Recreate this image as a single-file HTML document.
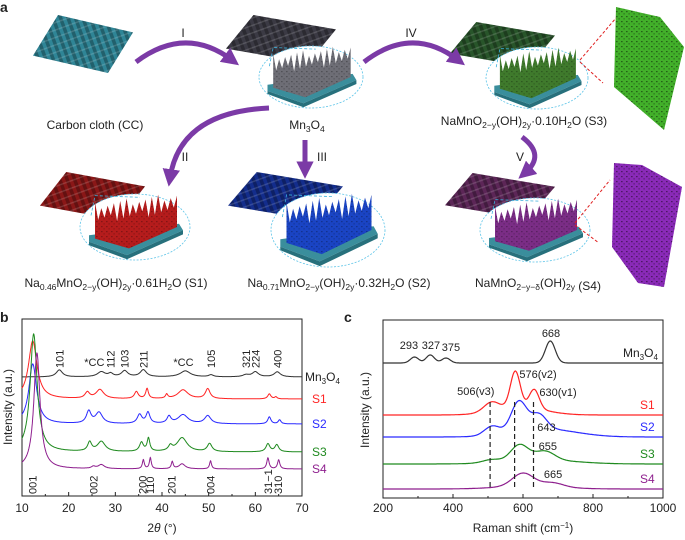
<!DOCTYPE html>
<html><head><meta charset="utf-8">
<style>
html,body{margin:0;padding:0;background:#fff;}
svg{display:block;font-family:"Liberation Sans",Arial,sans-serif;}
</style></head>
<body>
<svg id="fig" width="685" height="540" viewBox="0 0 685 540" xmlns="http://www.w3.org/2000/svg">
<defs>
<pattern id="weave" width="7" height="7" patternUnits="userSpaceOnUse" patternTransform="rotate(-20)">
<rect x="0" y="0" width="3.5" height="7" fill="rgba(0,0,0,0.28)"/>
<rect x="0" y="4.5" width="7" height="1.4" fill="rgba(255,255,255,0.15)"/>
</pattern>
<pattern id="flake" width="5" height="5" patternUnits="userSpaceOnUse">
<rect x="1" y="1" width="1.6" height="1.2" fill="rgba(0,0,0,0.45)"/>
<rect x="3.5" y="3" width="1.2" height="1.6" fill="rgba(0,0,0,0.3)"/>
</pattern>
<marker id="ah" viewBox="0 0 10 10" refX="5" refY="5" markerWidth="3.5" markerHeight="3.5" orient="auto"><path d="M0,0 L10,5 L0,10 z" fill="#7b3aa6"/></marker>
</defs>
<g id="panelA"></g>
<g id="panelB"></g>
<g id="panelC"></g>
</svg>
<script>
// ---------- XRD data (panel b) ----------
const xrdSeries = ["Mn3O4","S1","S2","S3","S4"];
const xrdBaselines = [55, 33, 8, -20, -37];   // intensity offsets (a.u.)
const xrdPeakPos = [
 [18,27,29,32,36,45,50.5,58,60,64.7],
 [12.3,24,26.7,34.5,36.8,41,44.5,49.8,63,64.4],
 [12.3,24.3,26.5,35.2,37,41.5,44.5,49.8,63,65.2],
 [12.5,24.5,27,35.6,37.1,41.8,44.3,50.2,62.7,64.6],
 [13.2,25.3,27,36,37.5,42.2,44.3,50.4,62.7,65]
];
const xrdPeakH = [
 [7,5,3,6,7,6,2,2,5,5],
 [58,6,9,7,10,4,9,10,5,2],
 [60,12,11,9,11,7,9,8,7,4],
 [118,9,10,9,13,5,14,8,8,7],
 [116,2,4,9,11,7,5,8,11,9]
];
const xrdPeakW = [
 [0.8,1,0.6,0.8,0.8,1.3,0.6,0.8,0.8,0.8],
 [1.1,0.6,1.0,0.5,0.35,0.3,1.3,0.6,0.4,0.3],
 [1.0,0.6,0.9,0.6,0.5,0.5,1.3,0.8,0.4,0.35],
 [0.9,0.5,1.0,0.5,0.35,0.5,1.3,0.6,0.5,0.5],
 [0.8,0.5,0.8,0.25,0.25,0.25,0.8,0.25,0.3,0.3]
];
const xrdTicks = [10,20,30,40,50,60,70];
const xrdTopLabels = ["101","112","103","211","105","321","224","400"];
const xrdTopLabelPos = [18,29,32,36,50.5,58,60,64.7];
const xrdCCPos = [25.5,44.6];
const xrdBotLabels = ["001","002","200","110","201","004","31\u22121","310"];
const xrdBotLabelPos = [12.3,25.3,35.8,37.4,42,50.4,62.7,64.9];

// ---------- Raman data (panel c) ----------
const ramSeries = ["Mn3O4","S1","S2","S3","S4"];
const ramBaselines = [135, 83, 61, 34, 9];
const ramPeakPos = [
 [290,335,380,678],
 [510,578,632,590],
 [512,588,645,660],
 [510,590,662,650],
 [600,685,620]
];
const ramPeakH = [
 [6,8,5,22],
 [9,36,19,8],
 [9,30,15,8],
 [3,16,9,4],
 [13,4,3]
];
const ramPeakW = [
 [12,12,12,14],
 [22,14,14,70],
 [22,22,22,90],
 [25,25,28,100],
 [30,30,90]
];
const ramTicks = [200,400,600,800,1000];
const ramDashed = [506,576,630];
const ramLabels = ["293","327","375","668","506(v3)","576(v2)","630(v1)","643","655","665"];
const ramLabelX = [274,337,394,680,465,643,700,667,671,686];
const ramLabelY = [149,149,147,161,103,120,102,67,48,20];

const NS="http://www.w3.org/2000/svg";
function mk(tag,attrs,parent){const e=document.createElementNS(NS,tag);for(const k in attrs)e.setAttribute(k,attrs[k]);parent.appendChild(e);return e;}
function txt(parent,x,y,s,opt){opt=opt||{};const t=mk("text",{x:x,y:y,"font-size":opt.size||11,fill:opt.fill||"#222","text-anchor":opt.anchor||"start"},parent);if(opt.rot)t.setAttribute("transform","rotate(-90 "+x+" "+y+")");t.innerHTML=s;return t;}
const colors=["#333333","#ff2424","#2a2aff","#1f8a1f","#8e1f8e"];

// ---------- Panel A ----------
const A=document.getElementById("panelA");
let t=txt(A,0,12,"a",{size:14});t.setAttribute("font-weight","bold");


function cloth(x,y,w,h,col,name){
 const g=mk("g",{},A);
 
 
 const pts=[[x+w*0.25,y],[x+w,y+h*0.3],[x+w*0.75,y+h],[x,y+h*0.7]].map(p=>p.join(",")).join(" ");
 mk("polygon",{points:pts,fill:col},g);
 mk("polygon",{points:pts,fill:"url(#weave)"},g);
}
function zoomCircle(cx,cy,rx,ry,col,name){
 const kx=rx/55, ky=ry/40;
 const g=mk("g",{},A);
 
 
 mk("ellipse",{cx:cx,cy:cy,rx:rx,ry:ry,fill:"#fff",stroke:"#5cc4e8","stroke-width":0.8,"stroke-dasharray":"2,1.5"},g);
 mk("polyline",{points:(cx-44*kx)+","+(cy-14*ky)+" "+(cx-40*kx)+","+(cy-38*ky)+" "+(cx+5*kx)+","+(cy-36*ky),fill:"none",stroke:"#3bb0dc","stroke-dasharray":"3,2","stroke-width":0.8},g);
 const P=a=>a.map(p=>(cx+p[0]*kx).toFixed(1)+","+(cy+p[1]*ky).toFixed(1)).join(" ");
 mk("polygon",{points:P([[-46,10],[44,-4],[48,4],[-8,34],[-46,18]]),fill:"#3a8e9c"},g);
 mk("polygon",{points:P([[-46,18],[-8,34],[48,4],[48,9],[-8,39],[-46,22]]),fill:"#27707c"},g);
 let p=[];const n=26;
 for(let i=0;i<=n;i++){const fx=i/n;p.push([-40+fx*82,8-fx*12-(i%2?20:38)+((i*7)%5)*2]);}
 const poly=[[-40,14]].concat(p).concat([[42,0],[-6,26]]);
 mk("polygon",{points:P(poly),fill:col},g);
 mk("polygon",{points:P(poly),fill:"url(#flake)",opacity:0.6},g);
}
function panelFlake(pts,col,name){
 const g=mk("g",{},A);
 
 
 mk("polygon",{points:pts,fill:col},g);
 mk("polygon",{points:pts,fill:"url(#flake)"},g);
}
function arrow(d,name){
 const p=mk("path",{d:d,fill:"none",stroke:"#7b3aa6","stroke-width":5,"marker-end":"url(#ah)"},A);
 
 
}
function redDash(x1,y1,x2,y2){mk("line",{x1:x1,y1:y1,x2:x2,y2:y2,stroke:"#e02020","stroke-width":1,"stroke-dasharray":"3,2"},A);}
cloth(33,15,100,58,"#2f8596","carbon-cloth");
cloth(226,15,110,48,"#3b3a44","mn3o4-cloth");
zoomCircle(311,77,52,31,"#6e6e76","mn3o4-zoom");
cloth(450,22,105,45,"#28552a","s3-cloth");
zoomCircle(537,78,51,31,"#3f7a2c","s3-zoom");
panelFlake("616,7 660,17 684,47 664,130 614,87","#42b02a","s3-flake-panel");
redDash(580,60,616,18);redDash(580,62,603,83);
cloth(40,172,105,48,"#8a1717","s1-cloth");
zoomCircle(135,227,55,33,"#b51c1c","s1-zoom");
cloth(228,172,115,48,"#132d8c","s2-cloth");
zoomCircle(328,230,57,37,"#1a44c4","s2-zoom");
cloth(445,173,110,46,"#5c2657","s4-cloth");
zoomCircle(535,230,55,32,"#7b2d86","s4-zoom");
panelFlake("614,163 642,165 682,187 664,287 638,283 612,247","#8a2ab8","s4-flake-panel");
redDash(575,223,610,180);redDash(575,225,599,243);
arrow("M136,62 Q185,25 232,60","arrow-I");
arrow("M364,62 Q412,25 458,60","arrow-IV");
arrow("M269,108 Q180,112 170,178","arrow-II");
arrow("M305,140 L305,170","arrow-III");
arrow("M522,137 Q546,155 525,173","arrow-V");
const roman=[["I",183,37],["IV",411,37],["II",185,161],["III",322,161],["V",520,161]];
roman.forEach(r=>{const e=txt(A,r[1],r[2],r[0],{size:12,anchor:"middle"});
 
 });
const sub='<tspan font-size="8.5" dy="3">';const end='</tspan><tspan dy="-3">';
const alabels=[
 ["Carbon cloth (CC)",95,129],
 ["Mn"+sub+"3"+end+"O"+sub+"4"+"</tspan>",307,129],
 ["NaMnO"+sub+"2\u2212y"+end+"(OH)"+sub+"2y"+end+"\u00b70.10H"+sub+"2"+end+"O (S3)",524,125],
 ["Na"+sub+"0.46"+end+"MnO"+sub+"2\u2212y"+end+"(OH)"+sub+"2y"+end+"\u00b70.61H"+sub+"2"+end+"O (S1)",116,287],
 ["Na"+sub+"0.71"+end+"MnO"+sub+"2\u2212y"+end+"(OH)"+sub+"2y"+end+"\u00b70.32H"+sub+"2"+end+"O (S2)",339,287],
 ["NaMnO"+sub+"2\u2212y\u2212\u03b4"+end+"(OH)"+sub+"2y"+"</tspan> (S4)",538,287]
];
alabels.forEach((l,i)=>{const e=txt(A,l[1],l[2],l[0],{size:12,anchor:"middle"});
 
 });

// ---------- Panel B ----------
const B=document.getElementById("panelB");
const bx0=22,bx1=302,by0=319,by1=496;
const bxs=v=>bx0+(v-10)/(70-10)*(bx1-bx0);
const bys=v=>432-v;
t=txt(B,0,322,"b",{size:14});t.setAttribute("font-weight","bold");

let fr=mk("rect",{x:bx0,y:by0,width:bx1-bx0,height:by1-by0,fill:"none",stroke:"#222","stroke-width":1},B);

xrdTicks.forEach(v=>{mk("line",{x1:bxs(v),y1:by1,x2:bxs(v),y2:by1-4,stroke:"#222"},B);
 const e=txt(B,bxs(v),512,v,{size:12,anchor:"middle"});
 });
for(let v=15;v<70;v+=10)mk("line",{x1:bxs(v),y1:by1,x2:bxs(v),y2:by1-2,stroke:"#222"},B);
t=txt(B,162,532,'2<tspan font-style="italic">\u03b8</tspan> (\u00b0)',{size:12,anchor:"middle"});

t=txt(B,12,407,"Intensity (a.u.)",{size:12,anchor:"middle",rot:true});

xrdSeries.forEach((s,i)=>{
 let d="";
 for(let x=10;x<=70;x+=0.05){let y=xrdBaselines[i];
  xrdPeakPos[i].forEach((c,k)=>{const w=xrdPeakW[i][k];y+=xrdPeakH[i][k]/(1+((x-c)/w)**2);});
  d+=(d?"L":"M")+bxs(x).toFixed(1)+","+bys(y).toFixed(1);}
 const p=mk("path",{d:d,fill:"none",stroke:colors[i],"stroke-width":1},B);
 
 const lab=i==0?'Mn<tspan font-size="8" dy="3">3</tspan><tspan dy="-3">O</tspan><tspan font-size="8" dy="3">4</tspan>':s;
 const e=txt(B,i==0?305:312,bys(xrdBaselines[i])+4,lab,{size:12,fill:i==0?"#222":colors[i]});
 
});
xrdTopLabels.forEach((l,k)=>{const e=txt(B,bxs(xrdTopLabelPos[k])+4,368,l,{size:11,rot:true});
 });
xrdCCPos.forEach(v=>{const e=txt(B,bxs(v),366,"*CC",{size:11,anchor:"middle"});
 });
xrdBotLabels.forEach((l,k)=>{const e=txt(B,bxs(xrdBotLabelPos[k])+4,494,l,{size:11,rot:true});
 });

// ---------- Panel C ----------
const C=document.getElementById("panelC");
const cx0=383,cx1=663,cy0=320,cy1=498;
const cxs=v=>cx0+(v-200)/(1000-200)*(cx1-cx0);
const cys=v=>cy1-v;
t=txt(C,344,322,"c",{size:14});t.setAttribute("font-weight","bold");

fr=mk("rect",{x:cx0,y:cy0,width:cx1-cx0,height:cy1-cy0,fill:"none",stroke:"#222","stroke-width":1},C);

ramTicks.forEach(v=>{mk("line",{x1:cxs(v),y1:cy1,x2:cxs(v),y2:cy1-4,stroke:"#222"},C);
 const e=txt(C,cxs(v),512,v,{size:12,anchor:"middle"});
 });
for(let v=300;v<1000;v+=200)mk("line",{x1:cxs(v),y1:cy1,x2:cxs(v),y2:cy1-2,stroke:"#222"},C);
t=txt(C,523,532,"Raman shift (cm<tspan font-size=\"8\" dy=\"-4\">\u22121</tspan><tspan dy=\"4\">)</tspan>",{size:12,anchor:"middle"});

t=txt(C,369,410,"Intensity (a.u.)",{size:12,anchor:"middle",rot:true});

ramSeries.forEach((s,i)=>{
 let d="";
 for(let x=200;x<=1000;x+=2){let y=ramBaselines[i];
  ramPeakPos[i].forEach((c,k)=>{const w=ramPeakW[i][k];y+=ramPeakH[i][k]*Math.exp(-0.5*((x-c)/w)**2);});
  d+=(d?"L":"M")+cxs(x).toFixed(1)+","+cys(y).toFixed(1);}
 const p=mk("path",{d:d,fill:"none",stroke:colors[i],"stroke-width":1.2},C);
 
 const lab=i==0?'Mn<tspan font-size="8" dy="3">3</tspan><tspan dy="-3">O</tspan><tspan font-size="8" dy="3">4</tspan>':s;
 const e=txt(C,i==0?623:640,cys(ramBaselines[i])-6,lab,{size:12,fill:i==0?"#222":colors[i]});
 
});
ramDashed.forEach(v=>{const l=mk("line",{x1:cxs(v),y1:402,x2:cxs(v),y2:487,stroke:"#222","stroke-width":1.2,"stroke-dasharray":"5,3"},C);
 });
ramLabels.forEach((l,k)=>{const e=txt(C,cxs(ramLabelX[k]),cys(ramLabelY[k]),l,{size:11,anchor:"middle"});
 });
</script>
</body></html>
